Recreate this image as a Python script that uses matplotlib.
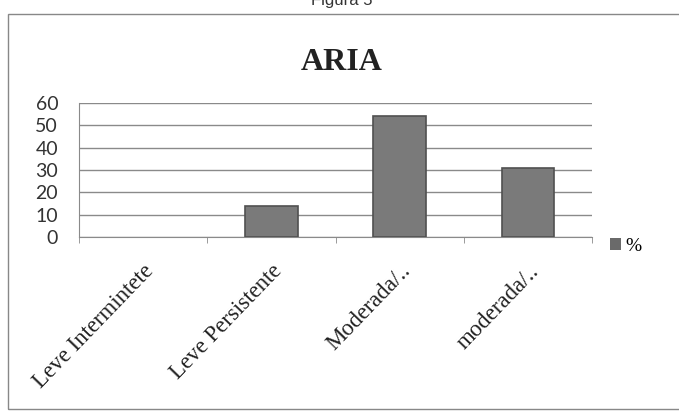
import matplotlib.pyplot as plt
from matplotlib.patches import Rectangle

categories = ["Leve Intermintete", "Leve Persistente", "Moderada/..", "moderada/.."]
values = [0, 14, 54, 31]
yticks = [0, 10, 20, 30, 40, 50, 60]

fig = plt.figure(figsize=(6.79, 4.13), dpi=100)
fig.patch.set_facecolor("white")

# caption cut off at top, as in the scan
fig.text(0.503, 1.0, "Figura 5", ha="center", va="center", fontsize=12,
         family="Liberation Sans", color="#333333")

# chart frame
fig.patches.append(Rectangle((8 / 679, 4 / 413), 1.0, 395 / 413, transform=fig.transFigure,
                             fill=False, edgecolor="#888888", lw=1.0))

ax = fig.add_axes([79 / 679, 1 - 237 / 413, 513 / 679, 134 / 413])
x = range(len(categories))
lws = [1.2 if v > 0 else 0 for v in values]
ax.bar(x, values, width=0.41, color="#7a7a7a", edgecolor="#505050", linewidth=lws,
       zorder=3)
ax.set_xlim(-0.5, len(categories) - 0.5)
ax.set_ylim(0, 60)
ax.set_yticks(yticks)
ax.set_yticklabels([str(v) for v in yticks], family="Lato", fontsize=14, color="#333333")
ax.yaxis.grid(True, color="#8a8a8a", lw=1.0, zorder=0)
ax.tick_params(axis="y", length=0, pad=15)

ax.set_xticks(x)
ax.set_xticklabels(categories, rotation=46, ha="right", va="top", rotation_mode="anchor",
                   family="Liberation Serif", fontsize=16.5, color="#222222")
ax.set_xticks([i - 0.5 for i in range(len(categories) + 1)], minor=True)
ax.tick_params(axis="x", which="major", length=0, pad=17)
ax.tick_params(axis="x", which="minor", length=4, color="#8a8a8a")

for s in ["top", "right"]:
    ax.spines[s].set_visible(False)
for s in ["left", "bottom"]:
    ax.spines[s].set_color("#8a8a8a")

fig.text(0.503, 1 - 62 / 413, "ARIA", ha="center", va="center", fontsize=23,
         fontweight="bold", family="Liberation Serif", color="#222222")

handle = Rectangle((0, 0), 1, 1, facecolor="#6a6a6a", edgecolor="none")
ax.legend([handle], ["%"], loc="center left", bbox_to_anchor=(1.0, -0.07), frameon=False,
          handlelength=0.6, handleheight=0.6, handletextpad=0.2,
          prop={"family": "Liberation Serif", "size": 14})

fig.savefig("out.png", dpi=100)
